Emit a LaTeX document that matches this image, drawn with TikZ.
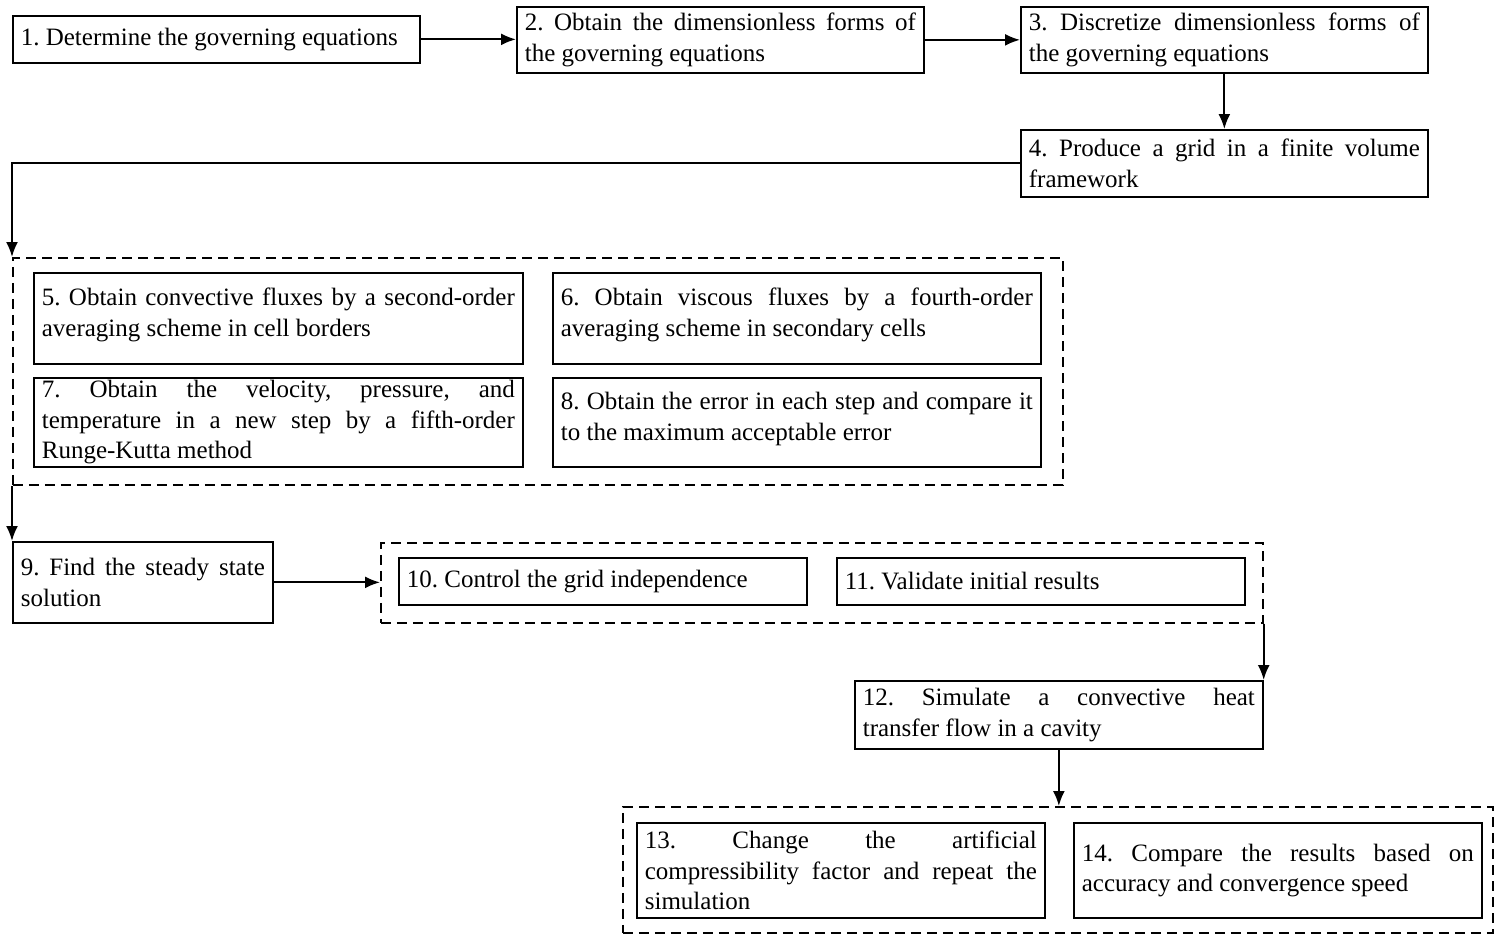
\documentclass[tikz,border=0pt]{standalone}
\usepackage{fontspec}
\setmainfont{Liberation Serif}
\usetikzlibrary{arrows.meta}
\frenchspacing
\begin{document}
\begin{tikzpicture}[x=1pt,y=-1pt,
  every node/.style={font=\fontsize{25}{30.5}\selectfont\frenchspacing},
  stepbox/.style n args={2}{draw, line width=1.7pt, anchor=north west,
    inner xsep=8pt, inner ysep=0pt, align=justify,
    text width=#1pt-16pt, minimum width=#1pt, minimum height=#2pt},
  groupbox/.style n args={2}{draw, dashed, dash pattern=on 10pt off 6pt,
    line width=1.7pt, anchor=north west, inner sep=0pt,
    minimum width=#1pt, minimum height=#2pt},
  conn/.style={line width=2pt, -{Latex[length=15pt,width=12pt]}}]
\useasboundingbox (0,0) rectangle (1500,938);
% groups
\node[groupbox={1050}{227}] (gA) at (12,257) {};
\node[groupbox={882}{80}] (gB) at (380,542) {};
\node[groupbox={870}{126}] (gC) at (622,806) {};
% boxes
\node[stepbox={407}{47}] (b1) at (12,15) {1. Determine the governing equations};
\node[stepbox={407}{66}] (b2) at (516,6) {2. Obtain the dimensionless forms of\linebreak the governing equations};
\node[stepbox={407}{66}] (b3) at (1020,6) {3. Discretize dimensionless forms of\linebreak the governing equations};
\node[stepbox={407}{67}] (b4) at (1020,129) {4. Produce a grid in a finite volume\linebreak framework};
\node[stepbox={489}{91}] (b5) at (33,272) {5. Obtain convective fluxes by a second-order\linebreak averaging scheme in cell borders\rule[-12pt]{0pt}{12pt}};
\node[stepbox={488}{91}] (b6) at (552,272) {6. Obtain viscous fluxes by a fourth-order\linebreak averaging scheme in secondary cells\rule[-12pt]{0pt}{12pt}};
\node[stepbox={489}{89}] (b7) at (33,377) {7. Obtain the velocity, pressure, and\linebreak temperature in a new step by a fifth-order\linebreak Runge-Kutta method};
\node[stepbox={488}{89}] (b8) at (552,377) {8. Obtain the error in each step and compare it\linebreak to the maximum acceptable error\rule[-12pt]{0pt}{12pt}};
\node[stepbox={260}{81}] (b9) at (12,541) {9. Find the steady state\linebreak solution};
\node[stepbox={408}{47}] (b10) at (398,557) {10. Control the grid independence};
\node[stepbox={408}{47}] (b11) at (836,557) {11. Validate initial results};
\node[stepbox={408}{68}] (b12) at (854,680) {12. Simulate a convective heat\linebreak transfer flow in a cavity};
\node[stepbox={408}{95}] (b13) at (636,822) {13. Change the artificial\linebreak compressibility factor and repeat the\linebreak simulation};
\node[stepbox={408}{95}] (b14) at (1073,822) {14. Compare the results based on\linebreak accuracy and convergence speed};
% connectors
\draw[conn] (b1.east) -- (b1.east -| b2.west);
\draw[conn] (b2.east) -- (b2.east -| b3.west);
\draw[conn] (b3.south) -- (b4.north);
\draw[conn] (b4.west) -| (gA.north west);
\draw[conn] (gA.south west) -- (b9.north west);
\draw[conn] (b9.east) -- (b9.east -| gB.west);
\draw[conn] (gB.south east) -- (b12.north east);
\draw[conn] (b12.south) -- (b12.south |- gC.north);
\end{tikzpicture}
\end{document}
